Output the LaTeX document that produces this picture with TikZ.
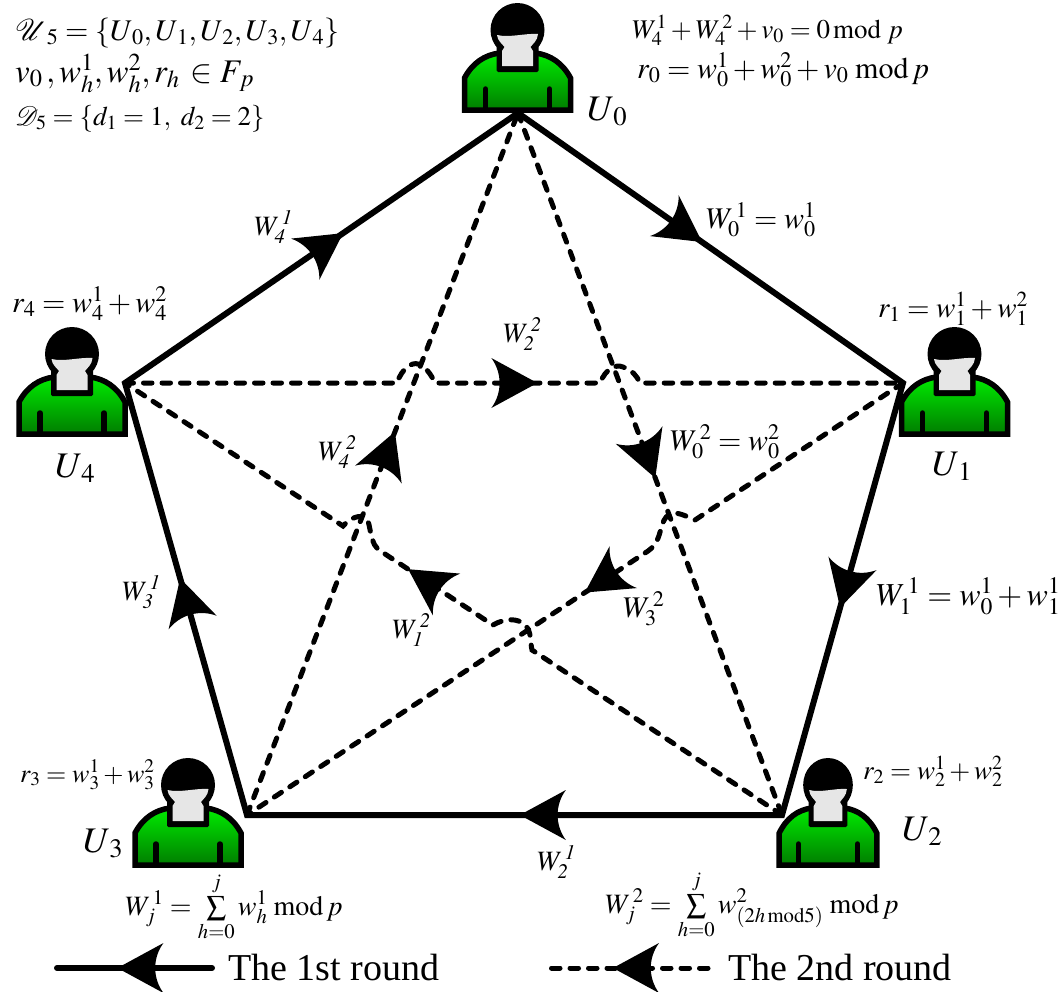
\documentclass[tikz,border=0pt]{standalone}
\usepackage{amsmath}
\usepackage{mathptmx}
\usepackage{fontspec}
\setmainfont{Liberation Serif}
\usetikzlibrary{calc, decorations.markings}

\definecolor{bodytop}{RGB}{0,235,0}
\definecolor{bodybottom}{RGB}{0,125,0}
\definecolor{facegrey}{RGB}{230,230,230}

\tikzset{
  firstround/.style={line width=6pt, line join=miter},
  secondround/.style={line width=5pt, line cap=round, dash pattern=on 8.5pt off 10pt},
  tipat/.style={postaction={decorate, decoration={markings, mark=at position #1 with {
    \fill[black] (0,0) -- (-46,25) .. controls (-35,10) and (-35,-10) .. (-46,-25) -- cycle;}}}},
  lbl/.style={anchor=base west, inner sep=0pt, font=\fontsize{#1}{#1}\selectfont},
  pics/person/.style={code={
    \shade[top color=bodytop, bottom color=bodybottom, draw=black, line width=5.5pt]
      (-53,-3) -- (-53,-35) .. controls (-45,-50) and (-33,-58) .. (-18,-60) -- (18,-60)
      .. controls (33,-58) and (45,-50) .. (53,-35) -- (53,-3) -- cycle;
    \draw[line width=5.5pt, line cap=round] (-32,-24) -- (-32,-4) (32,-24) -- (32,-4);
    \fill[black] (0,-83) circle (27);
    \fill[black, rounded corners=1.5pt] (-21,-68) rectangle (21,-41);
    \fill[facegrey] (-20.5,-78) .. controls (-8,-75) and (8,-80) .. (20.5,-79)
      .. controls (20,-72) and (15,-69) .. (13,-66) -- (15.5,-62) -- (15.5,-47) -- (-15.5,-47) -- (-15.5,-62)
      -- (-13,-66) .. controls (-15,-69) and (-20,-72) .. (-20.5,-78) -- cycle;
  }}
}

\begin{document}
\begin{tikzpicture}[x=1pt, y=-1pt]
  \useasboundingbox (0,0) rectangle (1063,991);

  % Users
  \pic (p0) at (517.5,113) {person};
  \pic (p1) at (954.5,437) {person};
  \pic[xscale=0.92] (p2) at (828,868) {person};
  \pic (p3) at (188,868) {person};
  \pic (p4) at (72,437) {person};

  % Corners of the pentagon
  \coordinate (v0) at (518,113);
  \coordinate (v1) at (903,383);
  \coordinate (v2) at (782,815);
  \coordinate (v3) at (247,815);
  \coordinate (v4) at (125,383);

  % The 1st round
  \draw[firstround] (v0) -- (v1) -- (v2) -- (v3) -- (v4) -- cycle;
  \path[tipat=0.478] (v0) -- (v1);
  \path[tipat=0.52] (v1) -- (v2);
  \path[tipat=0.49] (v2) -- (v3);
  \path[tipat=0.548] (v3) -- (v4);
  \path[tipat=0.555] (v4) -- (v0);

  % The 2nd round
  \draw[secondround] (v0) -- (v2);
  \draw[secondround] (v3) -- (v0);
  \draw[secondround] (v4) -- (397,383) .. controls (402,368) and (412,362) .. (418,364)
    .. controls (425,366) and (431,374) .. (435,383) -- (600,383)
    .. controls (606,368) and (616,364) .. (623,367) .. controls (632,370) and (637,376) .. (640,383) -- (v1);
  \draw[secondround] (v2) -- (532,650) .. controls (530,642) and (532,632) .. (525,625)
    .. controls (518,618) and (505,618) .. (493,625) -- (382,552)
    .. controls (368,545) and (372,524) .. (366,518) .. controls (360,514) and (350,518) .. (343,526) -- (v4);
  \draw[secondround] (v1) -- (695,520) .. controls (686,516) and (676,511) .. (670,514)
    .. controls (658,520) and (664,540) .. (648,551) -- (v3);
  \path[tipat=0.53] (v4) -- (v1);
  \path[tipat=0.52] (v0) -- (v2);
  \path[tipat=0.569] (v2) -- (v4);
  \path[tipat=0.485] (v1) -- (v3);
  \path[tipat=0.546] (v3) -- (v0);

  % Top left
  \node[lbl=30] (setU) at (15,40) {$\boldsymbol{\mathcal{U}}_{5}=\{U_{\,0},U_{\,1},U_{\,2},U_{\,3},U_{\,4}\}$};
  \node[lbl=33] (setF) at (15,82) {$v_{0}\,,w_{h}^{1},w_{h}^{2},r_{h}\,\in F_{\,p}$};
  \node[lbl=27] (setD) at (15,125) {$\mathcal{D}_{5}=\{d_{1}=1,\ d_{2}=2\}$};

  % Top right
  \node[lbl=27] (sumzero) at (632,38) {$W_{4}^{1}+W_{4}^{\,2}+v_{0}=0\,\mathrm{mod}\;p$};
  \node[lbl=30] (rzero) at (637,78) {$r_{0}=w_{0}^{1}+w_{0}^{2}+v_{0}\;\mathrm{mod}\,p$};

  % User names
  \node[lbl=36] (nameU0) at (587,120) {$U_{\,0}$};
  \node[lbl=36] (nameU1) at (932,475) {$U_{\,1}$};
  \node[lbl=36] (nameU2) at (902,840) {$U_{\,2}$};
  \node[lbl=36] (nameU3) at (83,852) {$U_{\,3}$};
  \node[lbl=36] (nameU4) at (55,477) {$U_{\,4}$};

  % Sums kept by the users
  \node[lbl=29] (rone) at (878,317) {$r_{1}=w_{1}^{1}+w_{1}^{2}$};
  \node[lbl=27] (rtwo) at (863,779) {$r_{2}=w_{2}^{1}+w_{2}^{2}$};
  \node[lbl=26] (rthree) at (20,782) {$r_{3}=w_{3}^{1}+w_{3}^{2}$};
  \node[lbl=30] (rfour) at (12,312) {$r_{4}=w_{4}^{1}+w_{4}^{2}$};

  % Labels of the 1st round
  \node[lbl=30] (wzeroone) at (706,228) {$W_{0}^{\,1}=w_{0}^{1}$};
  \node[lbl=32] (woneone) at (876,605) {$W_{1}^{\,1}=w_{0}^{1}+w_{1}^{1}$};
  \node[lbl=28] (wtwoone) at (537,870) {$W_{\mathit{2}}^{\,\mathit{1}}$};
  \node[lbl=28] (wthreeone) at (122,600) {$W_{\mathit{3}}^{\,\mathit{1}}$};
  \node[lbl=28] (wfourone) at (254,235) {$W_{\mathit{4}}^{\,\mathit{1}}$};

  % Labels of the 2nd round
  \node[lbl=28] (wtwotwo) at (503,342) {$W_{\mathit{2}}^{\,\mathit{2}}$};
  \node[lbl=30] (wzerotwo) at (670,450) {$W_{0}^{\,2}=w_{0}^{2}$};
  \node[lbl=28] (wfourtwo) at (318,460) {$W_{\mathit{4}}^{\,\mathit{2}}$};
  \node[lbl=30] (wthreetwo) at (623,617) {$W_{3}^{\,2}$};
  \node[lbl=28] (wonetwo) at (392,638) {$W_{\mathit{1}}^{\,\mathit{2}}$};

  % Formulas at the bottom
  \node[lbl=28] (formone) at (125,915) {$W_{j}^{\,1}=\sum\limits_{h=0}^{j}w_{h}^{1}\;\mathrm{mod}\,p$};
  \node[lbl=28] (formtwo) at (605,913) {$W_{j}^{\,2}=\sum\limits_{h=0}^{j}w_{(2h\,\mathrm{mod}5)}^{2}\;\mathrm{mod}\,p$};

  % Legend
  \coordinate (firstA) at (212,968);
  \coordinate (firstB) at (57,968);
  \coordinate (secondA) at (708,968);
  \coordinate (secondB) at (551,968);
  \draw[line width=6pt, line cap=round] (firstA) -- (firstB);
  \path[tipat=0.61] (firstA) -- (firstB);
  \draw[secondround] (secondA) -- (secondB);
  \path[tipat=0.605] (secondA) -- (secondB);
  \node[lbl=38] (roundone) at (228,980) {The 1st round};
  \node[lbl=38] (roundtwo) at (728,980) {The 2nd round};
\end{tikzpicture}
\end{document}
